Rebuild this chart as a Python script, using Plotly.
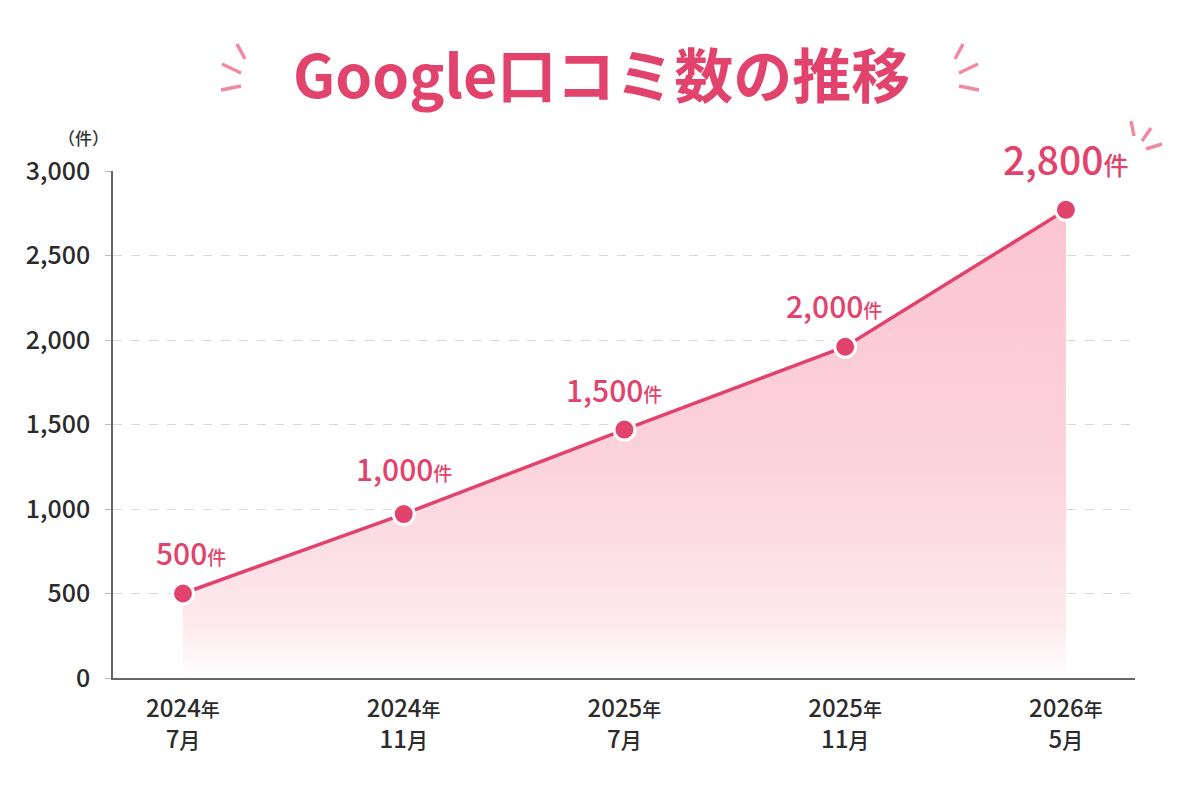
import plotly.graph_objects as go

# ---- data ----
periods = ["2024年7月", "2024年11月", "2025年7月", "2025年11月", "2026年5月"]
years = ["2024", "2024", "2025", "2025", "2026"]
months = ["7", "11", "7", "11", "5"]
reviews = [500, 970, 1470, 1960, 2770]
value_labels = ["500", "1,000", "1,500", "2,000", "2,800"]
y_ticks = [0, 500, 1000, 1500, 2000, 2500, 3000]
y_tick_text = ["0", "500", "1,000", "1,500", "2,000", "2,500", "3,000"]

# ---- style ----
PINK = "#e2436c"
FONT = "Noto Sans CJK JP"
W, H = 1200, 800
L, R, T, B = 113, 65, 171, 122
label_dx = [8, 0, -10, -11, 0]
label_dy = [42, 46, 41, 42, 52]
label_size = [30, 30, 30, 30, 39]
unit_size = [19, 19, 19, 19, 25]

xs = list(range(len(periods)))
tick_text = [
    f"{y}<span style='font-size:19px'>年</span><br>{m}<span style='font-size:21px'>月</span>"
    for y, m in zip(years, months)
]

fig = go.Figure()
fig.add_trace(go.Scatter(
    x=xs, y=reviews, mode="lines+markers",
    line=dict(color=PINK, width=3.5),
    marker=dict(size=21, color=PINK, line=dict(color="white", width=3)),
    fill="tozeroy",
    fillgradient=dict(type="vertical",
                      colorscale=[[0, "rgba(255,255,255,1)"], [0.12, "#fde9ee"],
                                  [0.45, "#fcd3dc"], [1, "#fbc4d0"]]),
    hoverinfo="skip", showlegend=False,
))

for i, (v, lab) in enumerate(zip(reviews, value_labels)):
    fig.add_annotation(
        x=xs[i], y=v, xref="x", yref="y",
        text=f"{lab}<span style='font-size:{unit_size[i]}px'>件</span>",
        showarrow=False, xanchor="center", yanchor="middle",
        xshift=label_dx[i], yshift=label_dy[i],
        font=dict(family=FONT, size=label_size[i], color=PINK, weight=500),
    )

def px_x(p):
    return (p - L) / (W - L - R)

def px_y(p):
    return (H - B - p) / (H - T - B)

# title
fig.add_annotation(
    x=px_x(601), y=px_y(73), xref="paper", yref="paper",
    text="Google口コミ数の推移", showarrow=False,
    xanchor="center", yanchor="middle",
    font=dict(family=FONT, size=59, color=PINK, weight=700),
)
# unit label
fig.add_annotation(
    x=px_x(83), y=px_y(137), xref="paper", yref="paper",
    text="（件）", showarrow=False, xanchor="center", yanchor="middle",
    font=dict(family=FONT, size=17, color="#333333", weight=500),
)

# decorative strokes
strokes = [
    ((237, 44), (245, 59)), ((222, 64), (241, 73)), ((221, 90), (241, 86)),
    ((963, 44), (955, 59)), ((978, 64), (959, 73)), ((979, 90), (959, 86)),
    ((1131, 121), (1134, 136)), ((1151, 128), (1142, 141)), ((1162, 144), (1146, 149)),
]
for (x0, y0), (x1, y1) in strokes:
    fig.add_shape(type="line", xref="paper", yref="paper",
                  x0=px_x(x0), y0=px_y(y0), x1=px_x(x1), y1=px_y(y1),
                  line=dict(color="#f08aa3", width=3.5))

fig.update_xaxes(
    range=[-0.317, 4.313], tickmode="array", tickvals=xs, ticktext=tick_text,
    showgrid=False, zeroline=False, showline=True, linecolor="#666666", linewidth=1.5,
    ticks="", ticklabelstandoff=8,
    tickfont=dict(family=FONT, size=24, color="#2b2b2b", weight=500),
    fixedrange=True,
)
fig.update_yaxes(
    range=[0, 3000], tickmode="array", tickvals=y_ticks, ticktext=y_tick_text,
    showgrid=True, gridcolor="#d9d9d9", griddash="dash", gridwidth=1,
    zeroline=False, showline=True, linecolor="#666666", linewidth=1.5,
    ticks="outside", ticklen=6, tickcolor="#bbbbbb", ticklabelstandoff=10,
    tickfont=dict(family=FONT, size=25, color="#2b2b2b", weight=500),
    fixedrange=True,
)
fig.update_layout(
    width=W, height=H, margin=dict(l=L, r=R, t=T, b=B),
    paper_bgcolor="white", plot_bgcolor="white",
    font=dict(family=FONT),
)
fig.write_html("out.html")
